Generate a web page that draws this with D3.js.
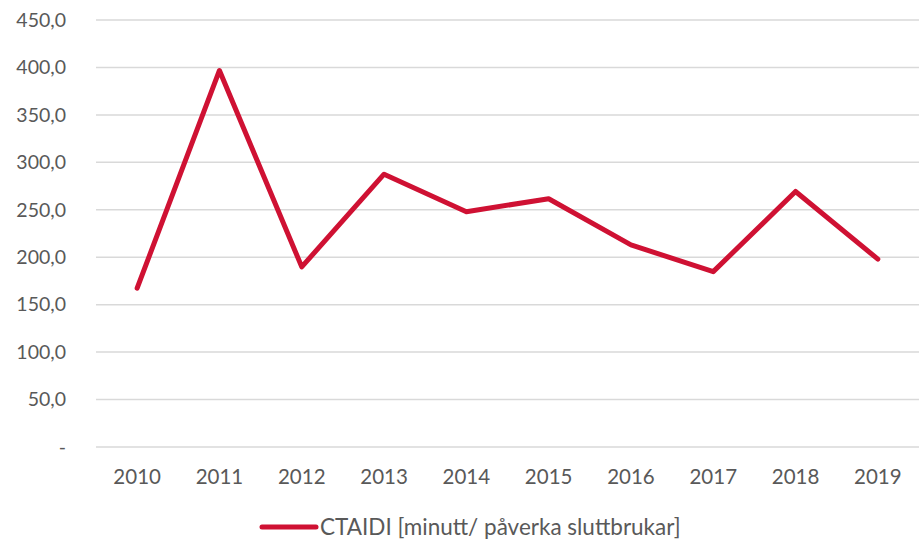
<!DOCTYPE html>
<html>
<head>
<meta charset="utf-8">
<script src="https://cdn.jsdelivr.net/npm/d3@7"></script>
<style>
  body { margin: 0; background: #fff; }
  text { font-family: "Lato", "Open Sans", sans-serif; fill: #595959; }
</style>
</head>
<body>
<div id="container"></div>
<script>
// Chart dimensions and margins
const width = 919;
const height = 542;
const marginTop = 20;
const marginRight = 0;
const marginBottom = 95;
const marginLeft = 96;

// Data
const years = ["2010", "2011", "2012", "2013", "2014", "2015", "2016", "2017", "2018", "2019"];
const ctaidi = [167.4, 396.8, 189.8, 287.5, 248.0, 261.6, 213.0, 184.8, 269.3, 198.0];
const yTicks = [0, 50, 100, 150, 200, 250, 300, 350, 400, 450];
const seriesName = "CTAIDI [minutt/ påverka sluttbrukar]";

const lineColor = "#cf1133";

const x = d3.scaleBand()
	.domain(years)
	.range([marginLeft, width - marginRight]);

const y = d3.scaleLinear()
	.domain([0, 450])
	.range([height - marginBottom, marginTop]);

const svg = d3.select("#container").append("svg")
	.attr("width", width)
	.attr("height", height)
	.style("display", "block");

// Gridlines
svg.append("g")
	.selectAll("line")
	.data(yTicks)
	.join("line")
		.attr("x1", marginLeft)
		.attr("x2", width - marginRight)
		.attr("y1", d => y(d))
		.attr("y2", d => y(d))
		.attr("stroke", "#d9d9d9")
		.attr("stroke-width", 1.5);

// Y-axis labels
const fmt = d => d === 0 ? "-" : d.toFixed(1).replace(".", ",");
svg.append("g")
	.selectAll("text")
	.data(yTicks)
	.join("text")
		.attr("x", 66)
		.attr("y", d => y(d))
		.attr("dy", "0.35em")
		.attr("text-anchor", "end")
		.attr("font-size", 19.5)
		.text(d => fmt(d));

// X-axis labels
svg.append("g")
	.selectAll("text")
	.data(years)
	.join("text")
		.attr("x", d => x(d) + x.bandwidth()/2)
		.attr("y", 477)
		.attr("dy", "0.35em")
		.attr("text-anchor", "middle")
		.attr("font-size", 20.5)
		.text(d => d);

// Line
svg.append("path")
	.datum(ctaidi)
	.attr("fill", "none")
	.attr("stroke", lineColor)
	.attr("stroke-width", 5)
	.attr("stroke-linejoin", "round")
	.attr("stroke-linecap", "round")
	.attr("d", d3.line()
		.x((d, i) => x(years[i]) + x.bandwidth()/2)
		.y(d => y(d)));

// Legend
const legend = svg.append("g").attr("transform", "translate(262, 527)");
legend.append("line")
	.attr("x1", 0)
	.attr("x2", 54)
	.attr("stroke", lineColor)
	.attr("stroke-width", 5)
	.attr("stroke-linecap", "round");
legend.append("text")
	.attr("x", 58)
	.attr("dy", "0.35em")
	.attr("font-size", 22.5)
	.text(seriesName);
</script>
</body>
</html>
